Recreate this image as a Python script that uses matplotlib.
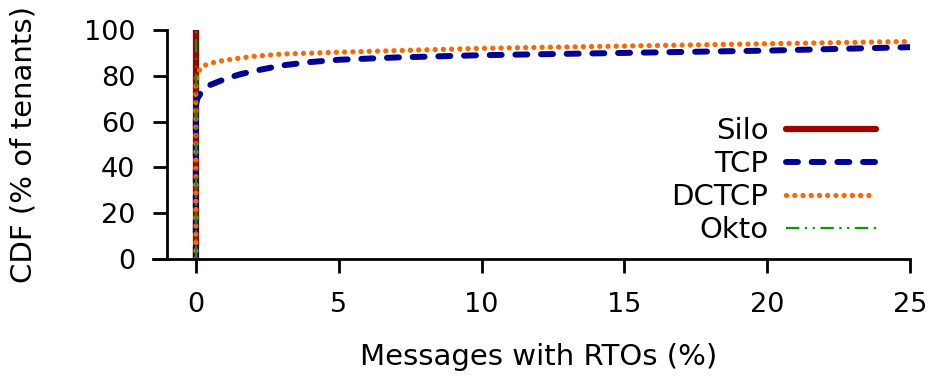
import matplotlib
matplotlib.use("Agg")
import matplotlib.pyplot as plt

# CDF values (x = % messages with RTOs, y = % of tenants)
silo_x = [0, 0]
silo_y = [0, 100]

okto_x = [0, 0]
okto_y = [0, 100]

tcp_x = [0, 0, 0.05, 0.2, 0.5, 1, 1.5, 2, 3, 4, 5, 7, 10, 15, 20, 25]
tcp_y = [0, 67, 70, 73, 76, 78.5, 80.5, 82, 84.5, 86, 87, 88, 89, 90, 91, 92.5]

dctcp_x = [0, 0, 0.05, 0.15, 0.3, 0.5, 1, 2, 3, 5, 7, 10, 15, 20, 25]
dctcp_y = [0, 77, 80, 83, 84.5, 85.5, 86.8, 88.5, 89.5, 90.3, 91, 92, 93, 94, 95]

fs = 21
fig, ax = plt.subplots(figsize=(9.34, 3.76), dpi=100)

ax.plot(silo_x, silo_y, color='#a00000', lw=4.5, solid_capstyle='round', label='Silo')
ax.plot(tcp_x, tcp_y, color='#000099', lw=4.3, linestyle=(0, (2, 2.3)), dash_capstyle='round', label='TCP')
ax.plot(dctcp_x, dctcp_y, color='#ff6600', lw=3.8, linestyle=(0, (0.01, 1.55)), dash_capstyle='round', label='DCTCP')
ax.plot(okto_x, okto_y, color='#00a000', lw=1.6, linestyle=(0, (6, 2.5, 1, 2.5, 1, 2.5)), label='Okto')

ax.set_xlim(-1.5, 25)
ax.set_ylim(0, 100)
ax.spines['left'].set_position(('data', -1))
ax.set_xticks([0, 5, 10, 15, 20, 25])
ax.set_yticks([0, 20, 40, 60, 80, 100])
ax.tick_params(labelsize=19.5, width=2, length=10, direction='out')
ax.tick_params(axis='x', pad=14)
ax.tick_params(axis='y', pad=13)
for s in ['top', 'right']:
    ax.spines[s].set_visible(False)
for s in ['left', 'bottom']:
    ax.spines[s].set_linewidth(2)

ax.set_xlabel('Messages with RTOs (%)', size=fs)
ax.set_ylabel('CDF (% of tenants)', size=fs)
ax.xaxis.set_label_coords(0.509, -0.365)
ax.yaxis.set_label_coords(-0.153, 0.5)

ax.legend(loc='lower right', bbox_to_anchor=(0.97, 0.015), frameon=False, fontsize=fs,
          markerfirst=False, handlelength=3.08, labelspacing=0.17, handletextpad=0.6,
          borderaxespad=0)

fig.subplots_adjust(left=0.1638, right=0.9743, bottom=0.3112, top=0.9202)
fig.savefig("out.png", dpi=100)
